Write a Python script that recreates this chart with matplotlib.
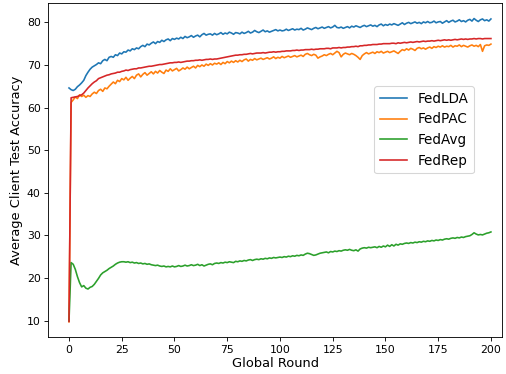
import numpy as np
import matplotlib
matplotlib.use("Agg")
import matplotlib.pyplot as plt

rounds = np.arange(0, 201)

fedlda = [
    64.6, 64.2, 64.0, 64.3, 64.9, 65.3, 65.8, 66.4, 67.5, 68.3,
    69.0, 69.5, 69.8, 70.1, 70.5, 70.3, 71.0, 71.3, 71.0, 71.8,
    72.0, 71.8, 72.4, 72.2, 72.8, 72.6, 73.1, 73.0, 73.5, 73.3,
    73.8, 73.6, 74.0, 73.8, 74.3, 74.6, 74.3, 74.9, 74.7, 75.1,
    75.4, 75.0, 75.5, 75.3, 75.8, 75.5, 75.9, 76.1, 75.7, 76.2,
    76.0, 76.3, 76.1, 76.5, 76.2, 76.7, 76.4, 76.6, 76.9, 76.5,
    76.8, 77.0, 76.6, 77.1, 77.4, 77.0, 77.2, 77.3, 77.0, 77.4,
    77.1, 77.3, 77.6, 77.2, 77.5, 77.3, 77.7, 77.5, 77.2, 77.6,
    77.5, 77.3, 77.7, 77.4, 77.6, 77.9, 77.5, 77.7, 78.1, 77.8,
    77.6, 77.9, 78.2, 77.8, 78.0, 77.7, 77.9, 78.1, 78.3, 78.0,
    78.2, 78.0, 78.1, 78.4, 78.1, 78.3, 78.5, 78.2, 78.4, 78.3,
    78.6, 78.2, 78.4, 78.7, 78.5, 78.3, 78.6, 78.8, 78.5, 78.7,
    78.9, 78.6, 78.8, 79.0, 78.7, 78.9, 79.3, 78.8, 78.7, 78.9,
    78.6, 78.8, 79.0, 78.7, 79.1, 78.9, 79.2, 79.0, 78.8, 79.1,
    79.3, 79.0, 79.2, 79.4, 79.1, 79.3, 79.0, 79.4, 79.6, 79.2,
    79.5, 79.3, 79.6, 79.4, 79.7, 79.5, 79.3, 79.6, 79.9, 79.5,
    79.8, 80.0, 79.7, 79.9, 80.1, 79.8, 80.0, 79.7, 80.1, 79.9,
    80.2, 79.9, 80.0, 80.3, 79.9, 80.1, 80.2, 79.8, 80.1, 80.4,
    80.0, 80.3, 80.5, 80.1, 80.3, 80.6, 80.2, 80.4, 80.1, 80.5,
    80.7, 80.3, 80.9, 80.5, 80.2, 80.6, 80.8, 80.4, 80.6, 80.3,
    80.8,
]

fedpac = [
    9.7, 61.2, 61.8, 62.5, 62.1, 63.0, 62.6, 62.9, 62.4, 62.8,
    62.6, 63.2, 63.6, 63.3, 64.0, 64.3, 63.8, 64.6, 64.4, 65.0,
    65.5, 66.0, 65.6, 66.4, 66.1, 66.8, 66.5, 67.1, 66.4, 66.9,
    67.3, 66.8, 67.6, 67.9, 67.2, 67.8, 68.2, 67.6, 68.0, 68.4,
    67.9, 68.5, 68.1, 68.7, 68.3, 68.0, 68.8, 68.5, 69.1, 68.6,
    68.9, 69.2, 68.6, 68.9, 69.3, 69.0, 69.5, 69.1, 69.4, 69.7,
    69.3, 69.9, 69.6, 70.0, 69.7, 70.2, 69.9, 70.3, 70.0, 70.4,
    70.2, 70.5, 70.1, 70.6, 70.3, 70.8, 70.5, 70.9, 70.6, 71.0,
    70.7, 71.1, 70.8, 71.2, 71.4, 70.9, 71.3, 71.1, 71.5, 71.2,
    71.4, 71.6, 71.3, 71.5, 71.7, 71.4, 71.6, 71.9, 71.5, 71.8,
    71.6, 72.0, 71.7, 71.9, 72.1, 71.8, 72.0, 72.2, 71.9, 72.1,
    72.3, 72.0, 72.5, 72.7, 72.4, 72.2, 72.5, 72.3, 71.6, 71.9,
    72.1, 72.4, 72.2, 72.5, 72.7, 72.4, 72.8, 73.2, 72.9, 71.9,
    72.5, 72.8, 72.6, 72.4, 72.7, 72.5, 72.2, 71.8, 71.3, 72.2,
    72.6, 72.9, 72.6, 72.8, 73.0, 72.7, 73.1, 72.9, 73.2, 72.8,
    73.0, 73.2, 72.9, 73.1, 73.3, 73.0, 72.7, 73.2, 73.6, 73.4,
    73.8, 73.5, 73.9, 73.7, 73.4, 73.9, 74.1, 73.8, 74.0, 73.7,
    74.0, 74.2, 73.9, 74.3, 74.1, 74.4, 74.2, 74.5, 74.2, 74.4,
    74.3, 74.6, 74.2, 74.5, 74.4, 74.7, 74.3, 74.6, 74.4, 74.2,
    74.5, 74.7, 74.4, 74.6, 74.3, 74.8, 73.2, 74.5, 74.7, 74.6,
    74.9,
]

fedavg = [
    9.9, 23.6, 23.2, 22.0, 20.3, 18.9, 17.9, 18.2, 17.6, 17.4,
    17.8, 18.0, 18.5, 19.2, 19.9, 20.7, 21.2, 21.5, 21.8, 22.2,
    22.5, 22.8, 23.2, 23.5, 23.7, 23.8, 23.8, 23.7, 23.8, 23.6,
    23.7, 23.5, 23.6, 23.4, 23.5, 23.3, 23.4, 23.2, 23.3, 23.1,
    23.0, 22.9, 23.0, 22.8, 22.7, 22.8, 22.6, 22.7, 22.6, 22.8,
    22.6, 22.7, 22.9, 22.7, 22.8, 23.0, 22.8, 22.9, 23.1, 22.9,
    23.0, 23.2, 22.9, 23.1, 22.8, 23.0, 23.2, 23.3, 23.1, 23.4,
    23.5, 23.4, 23.6, 23.5, 23.7, 23.6, 23.8, 23.7, 23.6, 23.9,
    23.8, 24.0, 23.9, 24.1, 24.0, 24.2, 24.3, 24.1, 24.3, 24.4,
    24.3, 24.5, 24.4, 24.6, 24.5, 24.7, 24.6, 24.8, 24.7, 24.8,
    24.9, 24.8, 25.0, 24.9, 25.1, 25.0, 25.2, 25.1, 25.3, 25.2,
    25.4, 25.3, 25.6, 25.8, 25.7, 25.5, 25.3, 25.4, 25.6, 25.8,
    25.9, 26.0, 26.1, 25.9, 26.2, 26.1, 26.3, 26.2, 26.4, 26.3,
    26.5, 26.6, 26.5, 26.7, 26.5, 26.4, 26.6, 26.3, 26.8, 27.0,
    27.1, 27.0, 27.2, 27.1, 27.2, 27.3, 27.1, 27.4, 27.2, 27.5,
    27.3, 27.7, 27.4, 27.8, 27.5, 27.9, 27.7, 28.0, 27.9, 28.1,
    28.2, 28.1, 28.3, 28.2, 28.4, 28.3, 28.5, 28.4, 28.6, 28.5,
    28.7, 28.6, 28.8, 28.7, 28.9, 28.8, 29.0, 28.9, 29.1, 29.2,
    29.1, 29.3, 29.4, 29.3, 29.5, 29.4, 29.6, 29.5, 29.7, 29.8,
    29.9, 30.2, 30.6, 30.3, 30.1, 30.2, 30.1, 30.3, 30.5, 30.6,
    30.8,
]

fedrep = [
    9.8, 62.3, 62.4, 62.5, 62.6, 62.8, 63.0, 63.4, 64.0, 64.6,
    65.1, 65.6, 66.0, 66.3, 66.8, 67.0, 67.2, 67.4, 67.6, 67.7,
    67.9, 68.0, 68.1, 68.3, 68.3, 68.5, 68.6, 68.8, 68.7, 68.9,
    69.0, 69.1, 69.1, 69.3, 69.3, 69.4, 69.5, 69.6, 69.7, 69.7,
    69.8, 69.9, 70.0, 70.1, 70.1, 70.2, 70.3, 70.4, 70.5, 70.5,
    70.6, 70.6, 70.7, 70.6, 70.7, 70.8, 70.9, 70.9, 71.0, 71.0,
    71.1, 71.1, 71.2, 71.1, 71.2, 71.3, 71.3, 71.4, 71.3, 71.4,
    71.4, 71.5, 71.6, 71.7, 71.8, 71.9, 72.0, 72.1, 72.2, 72.3,
    72.3, 72.4, 72.4, 72.5, 72.5, 72.6, 72.7, 72.6, 72.7, 72.8,
    72.8, 72.8, 72.9, 72.8, 72.9, 73.0, 73.0, 73.1, 73.0, 73.1,
    73.1, 73.2, 73.2, 73.3, 73.3, 73.3, 73.4, 73.4, 73.5, 73.4,
    73.5, 73.5, 73.6, 73.6, 73.6, 73.7, 73.6, 73.7, 73.7, 73.8,
    73.8, 73.8, 73.9, 73.9, 73.8, 74.0, 74.0, 74.0, 74.1, 74.0,
    74.1, 74.1, 74.2, 74.2, 74.3, 74.3, 74.4, 74.3, 74.5, 74.5,
    74.6, 74.6, 74.7, 74.7, 74.8, 74.8, 74.8, 74.9, 74.9, 75.0,
    75.0, 75.0, 75.0, 75.1, 75.1, 75.0, 75.2, 75.1, 75.2, 75.3,
    75.2, 75.3, 75.4, 75.3, 75.4, 75.5, 75.4, 75.5, 75.6, 75.5,
    75.6, 75.6, 75.7, 75.6, 75.7, 75.8, 75.7, 75.8, 75.9, 75.8,
    75.9, 75.8, 75.9, 76.0, 75.9, 76.0, 76.1, 76.0, 76.1, 76.0,
    76.1, 76.1, 76.2, 76.1, 76.2, 76.2, 76.1, 76.2, 76.2, 76.2,
    76.2,
]

series = {"FedLDA": fedlda, "FedPAC": fedpac, "FedAvg": fedavg, "FedRep": fedrep}

fig = plt.figure(figsize=(506 / 78, 374 / 78), dpi=78)
ax = fig.add_axes([0.0955, 0.099, 0.896, 0.892])

for name, vals in series.items():
    ax.plot(rounds, vals, label=name, linewidth=1.5)

ax.set_xlim(-9.8, 205.1)
ax.set_xlabel("Global Round", fontsize=12, labelpad=2)
ax.set_ylabel("Average Client Test Accuracy", fontsize=12)
ax.legend(loc="upper right", bbox_to_anchor=(0.939, 0.752), borderaxespad=0,
          fontsize=12.5)

fig.savefig("out.png", dpi=78)
